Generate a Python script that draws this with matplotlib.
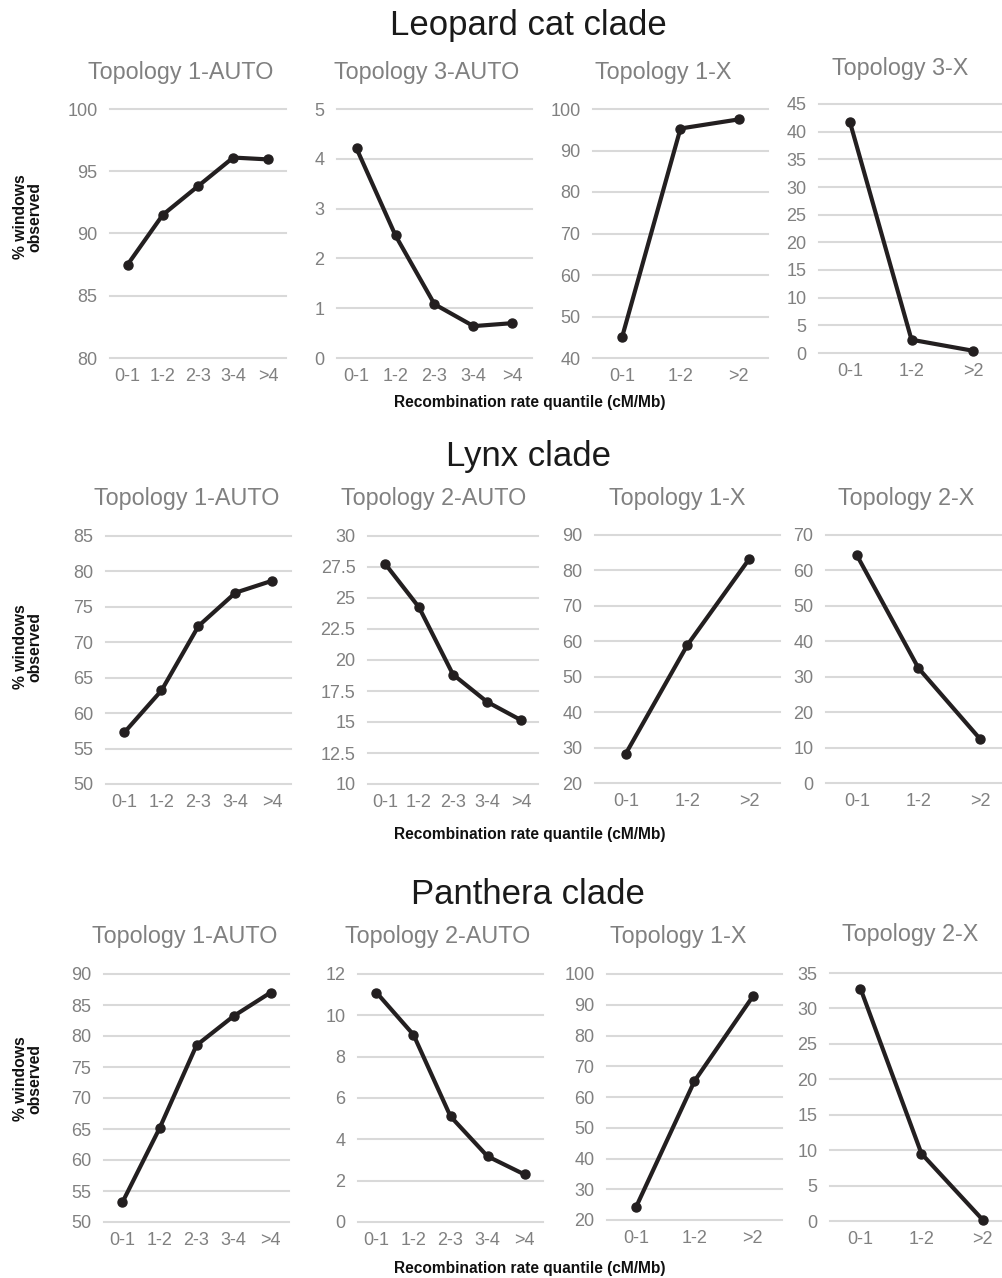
import matplotlib
matplotlib.use("Agg")
import matplotlib.pyplot as plt
import numpy as np

plt.rcParams['font.family'] = ['Liberation Sans', 'DejaVu Sans']

# categories
cats5 = ['0-1', '1-2', '2-3', '3-4', '>4']
cats3 = ['0-1', '1-2', '>2']

# Leopard cat clade
leopard_t1_auto = [87.5, 91.5, 93.8, 96.1, 95.95]
leopard_t3_auto = [4.21, 2.46, 1.08, 0.64, 0.70]
leopard_t1_x = [45.1, 95.3, 97.5]
leopard_t3_x = [41.8, 2.4, 0.4]

# Lynx clade
lynx_t1_auto = [57.3, 63.2, 72.3, 77.0, 78.7]
lynx_t2_auto = [27.77, 24.25, 18.83, 16.63, 15.15]
lynx_t1_x = [28.3, 59.0, 83.2]
lynx_t2_x = [64.3, 32.4, 12.4]

# Panthera clade
panthera_t1_auto = [53.2, 65.1, 78.5, 83.2, 87.0]
panthera_t2_auto = [11.1, 9.06, 5.11, 3.18, 2.30]
panthera_t1_x = [24.3, 65.2, 92.7]
panthera_t2_x = [32.8, 9.5, 0.2]

clades = ['Leopard cat clade', 'Lynx clade', 'Panthera clade']
titles = [['Topology 1-AUTO', 'Topology 3-AUTO', 'Topology 1-X', 'Topology 3-X'],
          ['Topology 1-AUTO', 'Topology 2-AUTO', 'Topology 1-X', 'Topology 2-X'],
          ['Topology 1-AUTO', 'Topology 2-AUTO', 'Topology 1-X', 'Topology 2-X']]
series = [[leopard_t1_auto, leopard_t3_auto, leopard_t1_x, leopard_t3_x],
          [lynx_t1_auto, lynx_t2_auto, lynx_t1_x, lynx_t2_x],
          [panthera_t1_auto, panthera_t2_auto, panthera_t1_x, panthera_t2_x]]
# y axis (min, max, step)
yaxes = [[(80, 100, 5), (0, 5, 1), (40, 100, 10), (0, 45, 5)],
         [(50, 85, 5), (10, 30, 2.5), (20, 90, 10), (0, 70, 10)],
         [(50, 90, 5), (0, 12, 2), (20, 100, 10), (0, 35, 5)]]

# layout in pixels: plot box (x0, x1, ytop, ybottom)
boxes = [[(110, 286, 109, 358), (337, 532, 109, 358), (593, 768, 109, 358), (819, 1004, 104, 353)],
         [(106, 291, 536, 784), (368, 538, 536, 784), (595, 780, 535, 783), (826, 1011, 535, 783)],
         [(104, 289, 974, 1222), (358, 543, 974, 1222), (607, 782, 974, 1220), (830, 1013, 973, 1221)]]
title_pos = [[(181, 72), (427, 72), (663, 72), (900, 68)],
             [(187, 498), (434, 498), (677, 498), (906, 498)],
             [(185, 937), (438, 937), (678, 937), (910, 935)]]
clade_y = [26, 457, 895]
xlabel_y = [403, 835, 1268]
ylabel_y = [217, 647, 1079]

W, H = 1003, 1278
fig = plt.figure(figsize=(W / 100, H / 100), dpi=100)

gray = '#808080'
for r in range(3):
    fig.text(528 / W, 1 - clade_y[r] / H, clades[r], ha='center', va='center',
             fontsize=25, color='#1a1a1a')
    fig.text(530 / W, 1 - xlabel_y[r] / H, 'Recombination rate quantile (cM/Mb)',
             ha='center', va='center', fontsize=11.2, fontweight='bold', color='#111111')
    fig.text(28 / W, 1 - ylabel_y[r] / H, '% windows\nobserved', ha='center', va='center',
             rotation=90, fontsize=11.3, fontweight='bold', linespacing=0.95, color='#111111')
    for c in range(4):
        x0, x1, yt, yb = boxes[r][c]
        ax = fig.add_axes([x0 / W, 1 - yb / H, (x1 - x0) / W, (yb - yt) / H])
        vals = series[r][c]
        cats = cats5 if len(vals) == 5 else cats3
        lo, hi, step = yaxes[r][c]
        ticks = np.arange(lo, hi + step / 2, step)
        for t in ticks:
            ax.axhline(t, color='#d9d9d9', lw=1.5, clip_on=False, zorder=0)
        xs = np.arange(len(cats))
        ax.plot(xs, vals, '-o', color='#231f20', lw=3, ms=6.5, clip_on=False, zorder=3)
        ax.set_xlim(-0.5, len(cats) - 0.5)
        ax.set_ylim(lo, hi)
        ax.set_xticks(xs)
        ax.set_xticklabels(cats)
        ax.set_yticks(ticks)
        ax.set_yticklabels(['%g' % t for t in ticks])
        ax.tick_params(length=0, labelsize=13, labelcolor=gray)
        ax.tick_params(axis='y', pad=9)
        ax.tick_params(axis='x', pad=7)
        for s in ax.spines.values():
            s.set_visible(False)
        ax.patch.set_alpha(0)
        tx, ty = title_pos[r][c]
        fig.text(tx / W, 1 - ty / H, titles[r][c], ha='center', va='center',
                 fontsize=16.8, color=gray)

fig.savefig('out.png', dpi=100)
